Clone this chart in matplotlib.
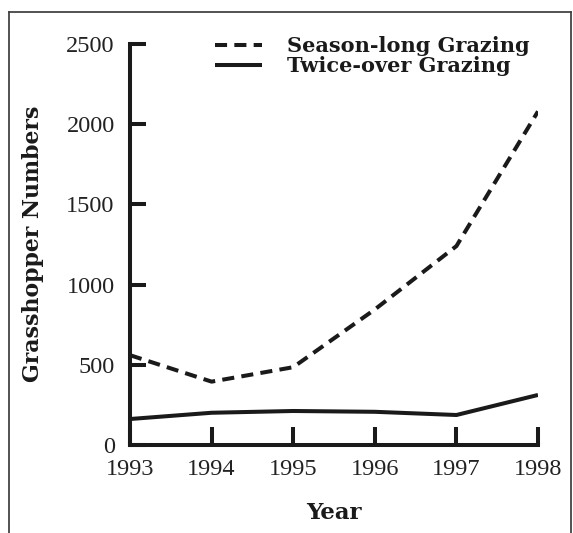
import matplotlib
matplotlib.use("Agg")
import matplotlib.pyplot as plt
from matplotlib.lines import Line2D

years = [1993, 1994, 1995, 1996, 1997, 1998]
season_long = [560, 395, 485, 845, 1240, 2080]
twice_over = [162, 201, 212, 207, 187, 312]
y_ticks = [0, 500, 1000, 1500, 2000, 2500]

W, H = 573, 533
fig = plt.figure(figsize=(W / 100, H / 100), dpi=100)
ax = fig.add_axes([130 / W, 1 - 445 / H, 408 / W, 401 / H])

lw = 2.9
ax.plot(years, season_long, color="#1a1a1a", lw=lw, dashes=(3, 1.8),
        solid_capstyle="butt", dash_capstyle="butt",
        label="Season-long Grazing")
ax.plot(years, twice_over, color="#1a1a1a", lw=lw, solid_capstyle="butt",
        solid_joinstyle="round", label="Twice-over Grazing")

ax.set_xlim(1993, 1998)
ax.set_ylim(0, 2500)
ax.set_xticks(years)
ax.set_yticks(y_ticks)
for s in ["top", "right"]:
    ax.spines[s].set_visible(False)
for s in ["left", "bottom"]:
    ax.spines[s].set_linewidth(lw)
    ax.spines[s].set_color("#1a1a1a")
    ax.spines[s].set_capstyle("projecting")

tickfont = {"family": "Liberation Serif", "size": 17.5}
ax.tick_params(axis="y", direction="in", length=11.5, width=lw,
               color="#1a1a1a", pad=11)
ax.tick_params(axis="x", direction="in", length=13, width=lw,
               color="#1a1a1a", pad=10)
ax.set_xticklabels([str(y) for y in years], fontdict=tickfont, color="#222222")
ax.set_yticklabels([str(v) for v in y_ticks], fontdict=tickfont, color="#222222")

boldfont = {"family": "DejaVu Serif", "weight": "bold", "size": 15.8}
fig.text(33 / W, 1 - 244 / H, "Grasshopper Numbers", rotation=90,
         ha="center", va="center", fontdict=boldfont, color="#1a1a1a")
fig.text(334 / W, 1 - 519 / H, "Year", ha="center", va="baseline",
         family="DejaVu Serif", weight="bold", size=16.5, color="#1a1a1a")

leg = ax.legend(loc="upper left", bbox_to_anchor=(215 / W, 1 - 36 / H),
                bbox_transform=fig.transFigure, frameon=False,
                prop={"family": "DejaVu Serif", "weight": "bold", "size": 15},
                handlelength=2.25, handletextpad=1.2, labelspacing=0.0,
                borderpad=0, borderaxespad=0)
for t in leg.get_texts():
    t.set_color("#1a1a1a")

# thin frame around the figure (open at the bottom)
frame_kw = dict(color="#444444", lw=1.3, transform=fig.transFigure)
fig.add_artist(Line2D([9 / W, 9 / W], [0, 1 - 12 / H], **frame_kw))
fig.add_artist(Line2D([9 / W, 571 / W], [1 - 12 / H, 1 - 12 / H], **frame_kw))
fig.add_artist(Line2D([571 / W, 571 / W], [0, 1 - 12 / H], **frame_kw))

fig.savefig("out.png", dpi=100)
